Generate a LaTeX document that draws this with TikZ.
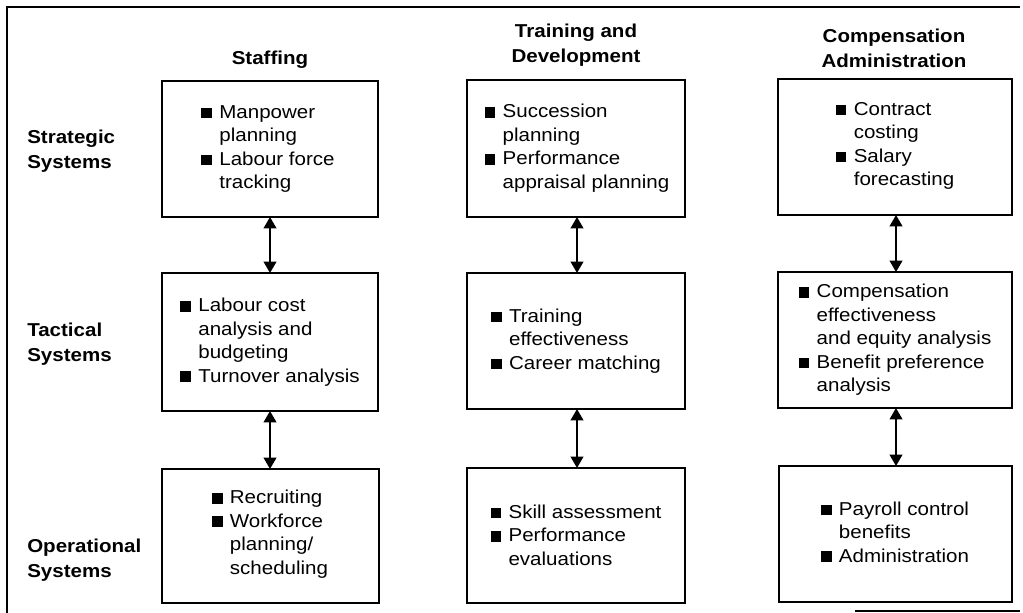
\documentclass[tikz,border=0pt]{standalone}
\usepackage{fontspec}
\setmainfont{Liberation Sans}[FakeStretch=1.1]
\usetikzlibrary{arrows.meta}
\newcommand\bsq{\makebox[13.5pt][l]{\rule{8pt}{8pt}}}
\newcommand\ind{\hspace*{13.5pt}}
\begin{document}
\begin{tikzpicture}[x=0.75pt,y=-0.75pt,
  every node/.style={inner sep=0pt, font=\fontsize{14}{17.6}\selectfont},
  sysbox/.style={draw, line width=1.3pt, align=left},
  head/.style={font=\fontsize{14}{18.5}\selectfont\bfseries, align=center},
  rowlab/.style={font=\fontsize{14}{18.5}\selectfont\bfseries, align=left, anchor=west},
  link/.style={line width=1.3pt, {Triangle[width=9.5pt,length=8.5pt]}-{Triangle[width=9.5pt,length=8.5pt]}},
  frame/.style={line width=1.2pt}]
\useasboundingbox (0,0) rectangle (1023,613);
% frame
\coordinate (ftl) at (7,7);
\coordinate (ftr) at (1020,7);
\coordinate (fbl) at (7,613);
\coordinate (fb1) at (855,611);
\coordinate (fb2) at (1020,611);
\draw[frame] (ftr) -- (ftl) -- (fbl);
\draw[frame] (fb1) -- (fb2);
% headings
\node[head] (hS) at (270,60) {Staffing};
\node[head] (hT) at (576,45) {Training and\\Development};
\node[head] (hC) at (894,48) {Compensation\\Administration};
% row labels
\node[rowlab] (rS) at (27,151) {Strategic\\Systems};
\node[rowlab] (rT) at (27,344) {Tactical\\Systems};
\node[rowlab] (rO) at (27,560) {Operational\\Systems};
% boxes: staffing
\path[sysbox] (162,81) rectangle (378,217);
\node[align=left] (s1) at (268,149) {\bsq Manpower\\\ind planning\\\bsq Labour force\\\ind tracking};
\path[sysbox] (162,273) rectangle (378,411);
\node[align=left] (s2) at (270,342) {\bsq Labour cost\\\ind analysis and\\\ind budgeting\\\bsq Turnover analysis};
\path[sysbox] (162,469) rectangle (379,603);
\node[align=left] (s3) at (270,534) {\bsq Recruiting\\\bsq Workforce\\\ind planning/\\\ind scheduling};
% boxes: training
\path[sysbox] (467,80) rectangle (685,217);
\node[align=left] (t1) at (577,148) {\bsq Succession\\\ind planning\\\bsq Performance\\\ind appraisal planning};
\path[sysbox] (467,273) rectangle (685,409);
\node[align=left] (t2) at (576,341) {\bsq Training\\\ind effectiveness\\\bsq Career matching};
\path[sysbox] (467,468) rectangle (685,603);
\node[align=left] (t3) at (576,535) {\bsq Skill assessment\\\bsq Performance\\\ind evaluations};
% boxes: compensation
\path[sysbox] (778,79) rectangle (1012,215);
\node[align=left] (c1) at (895,146) {\bsq Contract\\\ind costing\\\bsq Salary\\\ind forecasting};
\path[sysbox] (778,272) rectangle (1012,408);
\node[align=left] (c2) at (895,340) {\bsq Compensation\\\ind effectiveness\\\ind and equity analysis\\\bsq Benefit preference\\\ind analysis};
\path[sysbox] (779,466) rectangle (1012,602);
\node[align=left] (c3) at (895,532) {\bsq Payroll control\\\ind benefits\\\bsq Administration};
% anchor coordinates for connectors
\coordinate (s1b) at (270,217); \coordinate (s2t) at (270,273);
\coordinate (s2b) at (270,411); \coordinate (s3t) at (270,469);
\coordinate (t1b) at (577,217); \coordinate (t2t) at (577,273);
\coordinate (t2b) at (577,409); \coordinate (t3t) at (577,468);
\coordinate (c1b) at (896,215); \coordinate (c2t) at (896,272);
\coordinate (c2b) at (896,408); \coordinate (c3t) at (896,466);
\draw[link] (s1b) -- (s2t);
\draw[link] (s2b) -- (s3t);
\draw[link] (t1b) -- (t2t);
\draw[link] (t2b) -- (t3t);
\draw[link] (c1b) -- (c2t);
\draw[link] (c2b) -- (c3t);
\end{tikzpicture}
\end{document}
